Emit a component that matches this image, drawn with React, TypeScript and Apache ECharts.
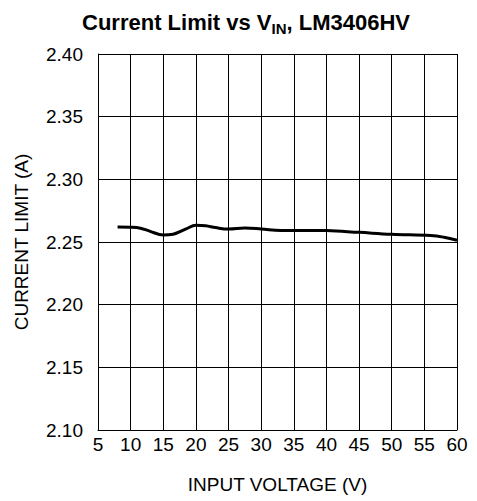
import React, { useEffect, useRef } from "react";
import * as echarts from "echarts";

const voltage = [8, 10, 11.5, 13, 15, 16.5, 18.5, 20, 21.5, 23, 25, 27.5, 30, 33, 38, 40, 45, 50, 56, 58, 60];
const currentLimit = [2.262, 2.2618, 2.261, 2.2585, 2.2556, 2.2562, 2.2605, 2.2634, 2.263, 2.2615, 2.2603, 2.2611, 2.2604, 2.2592, 2.2592, 2.2591, 2.2577, 2.2562, 2.2552, 2.2538, 2.2514];

const xTicks = [5, 60, 5];
const yTicks = [2.1, 2.4, 0.05];

export default function App() {
  const ref = useRef<HTMLDivElement>(null);
  useEffect(() => {
    if (!ref.current) return;
    const chart = echarts.init(ref.current, null, { renderer: "svg" });
    const font = "'Liberation Sans', Arial, Helvetica, sans-serif";
    chart.setOption({
      animation: false,
      backgroundColor: "#ffffff",
      title: {
        text: "{a|Current Limit vs V}{s|IN}{a|, LM3406HV}",
        left: 241,
        textAlign: "center",
        top: 4,
        textStyle: {
          rich: {
            a: { fontFamily: font, fontWeight: "bold", fontSize: 22, color: "#000" },
            s: { fontFamily: font, fontWeight: "bold", fontSize: 15, color: "#000", padding: [12, 0, 0, 0] },
          },
        },
      },
      grid: { left: 98, right: 20, top: 54, bottom: 71 },
      xAxis: {
        type: "value",
        min: xTicks[0],
        max: xTicks[1],
        interval: xTicks[2],
        name: "INPUT VOLTAGE (V)",
        nameLocation: "middle",
        nameGap: 45,
        nameTextStyle: { fontFamily: font, fontSize: 19, color: "#000" },
        axisLine: { show: true, lineStyle: { color: "#000", width: 1 } },
        axisTick: { show: false },
        axisLabel: { fontFamily: font, fontSize: 19, color: "#000", margin: 5 },
        splitLine: { show: true, lineStyle: { color: "#000", width: 1 } },
      },
      yAxis: {
        type: "value",
        min: yTicks[0],
        max: yTicks[1],
        interval: yTicks[2],
        name: "CURRENT LIMIT (A)",
        nameLocation: "middle",
        nameGap: 67,
        nameTextStyle: { fontFamily: font, fontSize: 19, color: "#000" },
        axisLine: { show: true, lineStyle: { color: "#000", width: 1 } },
        axisTick: { show: false },
        axisLabel: {
          fontFamily: font,
          fontSize: 19,
          color: "#000",
          margin: 15,
          formatter: (v: number) => v.toFixed(2),
        },
        splitLine: { show: true, lineStyle: { color: "#000", width: 1 } },
      },
      series: [
        {
          type: "line",
          data: voltage.map((v, i) => [v, currentLimit[i]]),
          smooth: 0.4,
          symbol: "none",
          lineStyle: { color: "#000", width: 3 },
        },
      ],
    });
    return () => chart.dispose();
  }, []);
  return (
    <div
      ref={ref}
      style={{ position: "absolute", left: 0, top: 0, width: 477, height: 501 }}
    />
  );
}
